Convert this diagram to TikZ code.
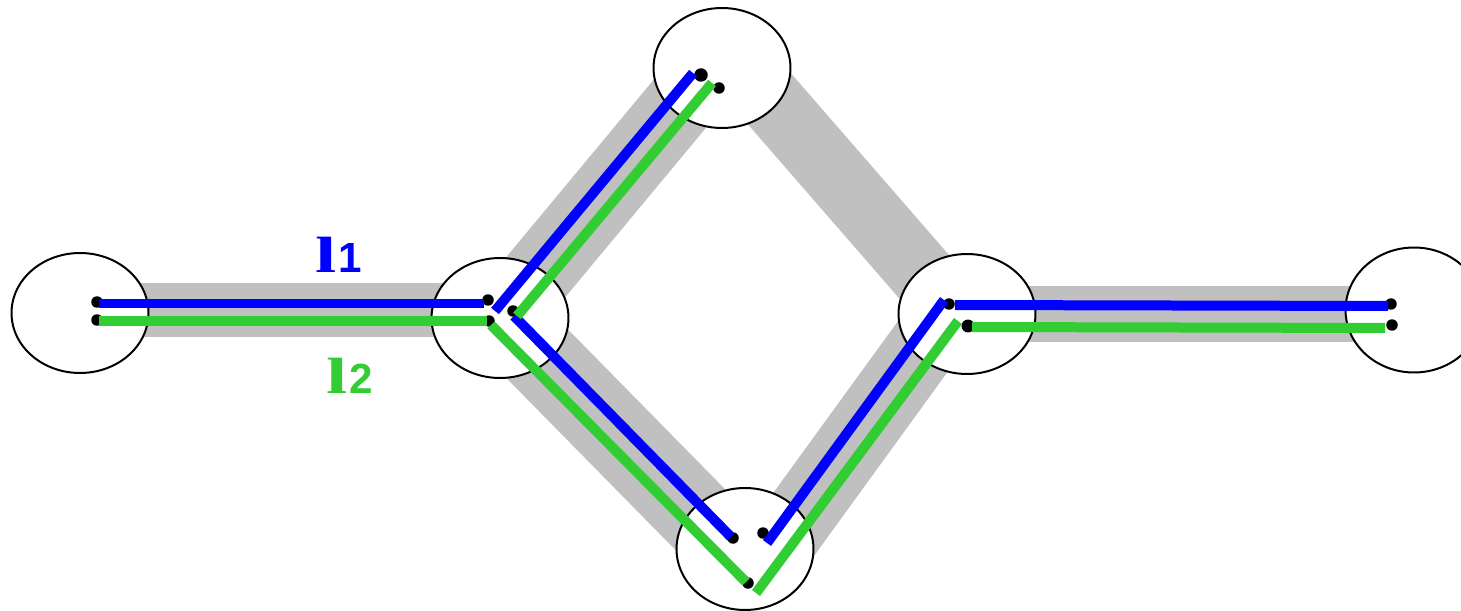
\documentclass[tikz,border=0pt]{standalone}
\usepackage{fontspec,graphicx}
\newfontfamily\lserif{Liberation Serif}
\newfontfamily\lsans{Liberation Sans}
\usetikzlibrary{shapes.geometric}
\definecolor{linkgray}{RGB}{192,192,192}
\definecolor{limeg}{RGB}{50,205,50}
\newcommand{\pathname}[1]{{\lserif\bfseries\fontsize{29}{31}\selectfont\scalebox{1.5}[1]{l}}\kern1pt{\lsans\bfseries\fontsize{24}{26}\selectfont #1}}
\tikzset{
  site/.style={ellipse,draw,fill=white,line width=.04cm,minimum width=2.74cm,minimum height=2.4cm,inner sep=0pt},
  corridor/.style={draw=linkgray,line width=#1},
  pathone/.style={draw=blue,line width=.2cm},
  pathtwo/.style={draw=limeg,line width=.2cm},
  endpt/.style={circle,fill=black,inner sep=0pt,minimum size=#1},
  endpt/.default=.23cm,
  lbl/.style={anchor=base,inner sep=0pt}
}
\begin{document}
\begin{tikzpicture}[x=.02cm,y=-.02cm]
\useasboundingbox (0,0) rectangle (1461,611);
% gray corridors between the sites
\foreach \n/\x/\y in {ab1/80/310,ab2/500/310,bc1/501/319,bc2/712/65,bd1/502/318,bd2/740/560,
  de1/762/568,de2/950/309,ce1/727/50,ce2/960/318,ef1/967/314,ef2/1414/314}
  \coordinate (\n) at (\x,\y);
\draw[corridor=1.08cm] (ab1)--(ab2);
\draw[corridor=1.42cm] (bc1)--(bc2);
\draw[corridor=1.56cm] (bd1)--(bd2);
\draw[corridor=1.40cm] (de1)--(de2);
\draw[corridor=1.32cm] (ce1)--(ce2);
\draw[corridor=1.14cm] (ef1)--(ef2);
% sites
\node[site] (A) at (80,313) {};
\node[site] (B) at (500,318) {};
\node[site] (C) at (722,68) {};
\node[site,minimum height=2.44cm] (D) at (745,549) {};
\node[site] (E) at (967,314) {};
\node[site,minimum height=2.5cm] (F) at (1414,310) {};
% end points
\foreach \n/\x/\y in {a1/97/302,a2/97/320,b1/488/300,b2/489/321,b3/513/311,c2/719/88,
  d1/733/538,d2/763/533,d3/748/583,e1/949/304,f1/1391/304,f2/1392/325}
  \node[endpt] (\n) at (\x,\y) {};
\node[endpt=.27cm] (c1) at (701,75) {};
\node[endpt=.26cm] (e2) at (968,326) {};
% path l1 and path l2
\foreach \n/\x/\y in {u1/99/303.5,u2/484/303.5,u3/495/311,u4/693/73,u5/514/316,u6/731/537,
  u7/767/543,u8/944/300,u9/955/305,u10/1388/306,
  v1/99/321,v2/487/321,v3/517/316,v4/712/83,v5/491/325,v6/746/582,
  v7/756/593,v8/958/321,v9/972/327,v10/1385/328}
  \coordinate (\n) at (\x,\y);
\draw[pathone] (u1)--(u2); \draw[pathone] (u3)--(u4); \draw[pathone] (u5)--(u6);
\draw[pathone] (u7)--(u8); \draw[pathone] (u9)--(u10);
\draw[pathtwo] (v1)--(v2); \draw[pathtwo] (v3)--(v4); \draw[pathtwo] (v5)--(v6);
\draw[pathtwo] (v7)--(v8); \draw[pathtwo] (v9)--(v10);
\node[lbl,text=blue] (lone) at (339,273) {\pathname{1}};
\node[lbl,text=limeg] (ltwo) at (350,393) {\pathname{2}};
\end{tikzpicture}
\end{document}
